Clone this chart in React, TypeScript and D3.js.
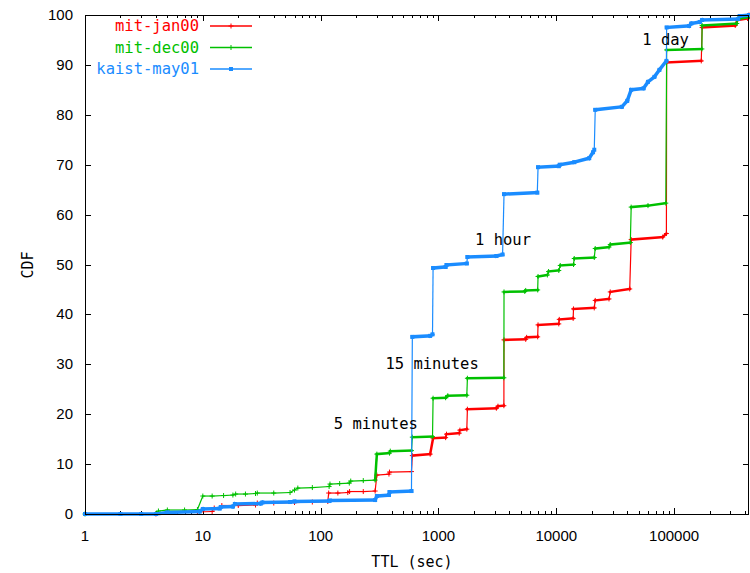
import React, { useRef, useEffect } from 'react';
import * as d3 from 'd3';

// [TTL seconds, CDF %]
const mitJan00: [number, number][] = [
  [4, 0], [5, 0.3], [9, 0.4], [12, 0.5], [12.5, 1.2], [14, 1.3], [14.5, 1.7], [20, 1.7], [28, 1.8], [29, 2.2],
  [40, 2.2], [60, 2.3], [85, 2.4], [115, 2.5], [117, 4.2], [140, 4.2], [170, 4.3], [176, 4.5], [230, 4.5], [290, 4.6], [300, 7.8], [380, 8.0],
  [384, 8.4], [590, 8.5], [600, 11.7], [850, 12.0], [900, 15.2], [1150, 15.3], [1170, 16.0],
  [1500, 16.2], [1520, 16.8], [1740, 17.0], [1760, 21.0], [3100, 21.2], [3200, 21.6], [3590, 21.7],
  [3600, 34.9], [5500, 35.0], [5600, 35.4], [6950, 35.5], [7000, 37.9], [10500, 38.1], [10600, 39.0],
  [13900, 39.2], [14000, 41.1], [21000, 41.3], [21400, 42.8], [28000, 43.1], [28700, 44.5],
  [42000, 45.1], [43200, 55.0], [80000, 55.5], [86000, 56.2], [86400, 90.5], [170000, 90.8],
  [172800, 97.5], [330000, 97.9], [345000, 99.0], [420000, 99.3], [432000, 100],
];

const mitDec00: [number, number][] = [
  [1, 0], [4, 0.1], [4.2, 0.6], [5, 0.8], [7, 0.8], [9, 0.9], [10, 3.6], [12, 3.6], [15, 3.7], [18, 3.8], [19, 4.0], [23, 4.0], [28, 4.1],
  [29, 4.2], [40, 4.2], [55, 4.3], [60, 4.8], [64, 5.2], [85, 5.3], [118, 5.5], [120, 6.0], [145, 6.1], [175, 6.2], [180, 6.6], [230, 6.7],
  [290, 6.8], [300, 12.0], [384, 12.2], [390, 12.6], [590, 12.7], [600, 15.4], [890, 15.5],
  [900, 23.2], [1150, 23.3], [1200, 23.7], [1740, 23.8], [1760, 27.2], [3590, 27.3], [3600, 44.5],
  [5400, 44.6], [5500, 44.8], [6950, 44.9], [7000, 47.6], [8400, 47.9], [8600, 48.6], [10500, 48.8],
  [10800, 49.8], [14000, 50.0], [14200, 51.2], [21000, 51.4], [21400, 53.2], [28000, 53.5],
  [28700, 54.0], [42500, 54.4], [43200, 61.5], [60000, 61.8], [85000, 62.3], [86400, 93.0],
  [172000, 93.2], [172800, 97.9], [340000, 98.3], [345000, 99.2], [432000, 99.6],
];

const kaistMay01: [number, number][] = [
  [1, 0], [2, 0], [3, 0], [4, 0], [5, 0.3], [9.4, 0.5], [10, 1.0], [13.9, 1.1], [14.2, 1.4],
  [18, 1.5], [18.7, 2.0], [31, 2.1], [32, 2.3], [55, 2.4], [60, 2.5], [118, 2.6], [120, 2.7],
  [290, 2.8], [300, 3.6], [380, 3.8], [384, 4.4], [590, 4.6], [600, 35.5], [850, 35.7], [890, 36.0],
  [900, 49.3], [1150, 49.5], [1170, 49.9], [1740, 50.2], [1760, 51.5], [3100, 51.7], [3500, 52.0],
  [3600, 64.1], [6900, 64.4], [7000, 69.5], [10500, 69.7], [10700, 70.0], [14200, 70.5],
  [19000, 71.3], [20500, 72.5], [21000, 73.0], [21400, 81.0], [36000, 81.6], [40000, 82.8],
  [43200, 85.0], [55000, 85.3], [60000, 86.6], [68000, 87.6], [75000, 89.0], [86000, 90.8],
  [86400, 97.5], [134000, 97.8], [140000, 98.3], [165000, 98.6], [172800, 99.0], [350000, 99.2],
  [360000, 99.8], [432000, 100],
];

const seriesNames = ['mit-jan00', 'mit-dec00', 'kaist-may01'];
const seriesColors = ['#ff0000', '#00c000', '#1a8cff'];
const xTicks = [1, 10, 100, 1000, 10000, 100000];
const yTicks = [0, 10, 20, 30, 40, 50, 60, 70, 80, 90, 100];

const annotations: { text: string; ttl: number; cdf: number }[] = [
  { text: '5 minutes', ttl: 300, cdf: 18 },
  { text: '15 minutes', ttl: 900, cdf: 30 },
  { text: '1 hour', ttl: 3600, cdf: 55 },
  { text: '1 day', ttl: 86400, cdf: 95 },
];

const W = 750;
const H = 573;

const App = () => {
  const ref = useRef<SVGSVGElement>(null);

  useEffect(() => {
    const svg = d3.select(ref.current);
    svg.selectAll('*').remove();

    const left = 85, right = 749, top = 15, bottom = 514;
    const x = d3.scaleLog().domain([1, 432000]).range([left, right]);
    const y = d3.scaleLinear().domain([0, 100]).range([bottom, top]);

    const mono = 'DejaVu Sans Mono, monospace';
    const sans = 'Liberation Sans, Arial, sans-serif';

    svg.append('rect').attr('width', W).attr('height', H).attr('fill', '#fff');

    // ticks (inward, mirrored)
    const g = svg.append('g').attr('stroke', '#000').attr('stroke-width', 1);
    yTicks.forEach(t => {
      const yy = Math.round(y(t)) + 0.5;
      g.append('line').attr('x1', left).attr('x2', left + 6).attr('y1', yy).attr('y2', yy);
      g.append('line').attr('x1', right).attr('x2', right - 6).attr('y1', yy).attr('y2', yy);
    });
    xTicks.forEach(t => {
      const xx = Math.round(x(t)) + 0.5;
      g.append('line').attr('x1', xx).attr('x2', xx).attr('y1', bottom).attr('y2', bottom - 6);
      g.append('line').attr('x1', xx).attr('x2', xx).attr('y1', top).attr('y2', top + 6);
      for (let m = 2; m <= 9; m++) {
        const v = t * m;
        if (v > 432000) break;
        const mx = Math.round(x(v)) + 0.5;
        g.append('line').attr('x1', mx).attr('x2', mx).attr('y1', bottom).attr('y2', bottom - 3);
        g.append('line').attr('x1', mx).attr('x2', mx).attr('y1', top).attr('y2', top + 3);
      }
    });

    // tick labels
    yTicks.forEach(t => {
      svg.append('text')
        .attr('x', 73).attr('y', y(t) + 5)
        .attr('text-anchor', 'end')
        .attr('font-family', sans).attr('font-size', 15)
        .text(t);
    });
    xTicks.forEach(t => {
      svg.append('text')
        .attr('x', x(t)).attr('y', 541)
        .attr('text-anchor', 'middle')
        .attr('font-family', sans).attr('font-size', 15)
        .text(t);
    });

    svg.append('text')
      .attr('transform', 'translate(33,265) rotate(-90)')
      .attr('text-anchor', 'middle')
      .attr('font-family', mono).attr('font-size', 15)
      .text('CDF');
    svg.append('text')
      .attr('x', 412).attr('y', 567)
      .attr('text-anchor', 'middle')
      .attr('font-family', mono).attr('font-size', 15)
      .text('TTL (sec)');

    // series: vertical jumps thin, flat runs look thick from the dense point markers
    const allSeries = [mitJan00, mitDec00, kaistMay01];
    allSeries.forEach((data, i) => {
      const color = seriesColors[i];
      const thick = i === 2 ? 3.5 : 2.5;
      const sg = svg.append('g');
      for (let k = 1; k < data.length; k++) {
        const x1 = x(data[k - 1][0]), y1 = y(data[k - 1][1]);
        const x2 = x(data[k][0]), y2 = y(data[k][1]);
        const vertical = Math.abs(x2 - x1) < 1.5;
        const sparse = i !== 2 && y2 > 470;
        sg.append('line')
          .attr('x1', x1).attr('y1', y1).attr('x2', x2).attr('y2', y2)
          .attr('stroke', color)
          .attr('stroke-width', vertical || sparse ? 1.2 : thick)
          .attr('stroke-linecap', 'square');
      }
      data.forEach(d => {
        const px = x(d[0]), py = y(d[1]);
        if (i === 2) {
          sg.append('rect').attr('x', px - 2).attr('y', py - 2).attr('width', 4).attr('height', 4).attr('fill', color);
        } else {
          sg.append('path').attr('d', `M${px - 2.5},${py}H${px + 2.5}M${px},${py - 2.5}V${py + 2.5}`)
            .attr('stroke', color).attr('stroke-width', 1);
        }
      });
    });

    // annotations
    annotations.forEach(a => {
      svg.append('text')
        .attr('x', x(a.ttl) - 1).attr('y', y(a.cdf) + 5)
        .attr('text-anchor', 'middle')
        .attr('font-family', mono).attr('font-size', 15.5)
        .text(a.text);
    });

    // legend
    const legendY = [26, 47.5, 69];
    seriesNames.forEach((name, i) => {
      const ly = legendY[i];
      svg.append('text')
        .attr('x', 199).attr('y', ly + 5)
        .attr('text-anchor', 'end')
        .attr('font-family', mono).attr('font-size', 15.5)
        .attr('fill', seriesColors[i])
        .text(name);
      svg.append('line')
        .attr('x1', 210).attr('x2', 252).attr('y1', ly).attr('y2', ly)
        .attr('stroke', seriesColors[i]).attr('stroke-width', 1.5);
      if (i === 2) {
        svg.append('rect').attr('x', 229).attr('y', ly - 2).attr('width', 4).attr('height', 4).attr('fill', seriesColors[i]);
      } else {
        svg.append('path').attr('d', `M228.5,${ly}H233.5M231,${ly - 2.5}V${ly + 2.5}`)
          .attr('stroke', seriesColors[i]).attr('stroke-width', 1);
      }
    });

    // frame
    svg.append('rect')
      .attr('x', left + 0.5).attr('y', top + 0.5)
      .attr('width', right - left - 1).attr('height', bottom - top)
      .attr('fill', 'none').attr('stroke', '#000').attr('stroke-width', 1);
  }, []);

  return (
    <svg ref={ref} width={W} height={H} style={{ position: 'absolute', left: 0, top: 0, display: 'block' }} />
  );
};

export default App;
